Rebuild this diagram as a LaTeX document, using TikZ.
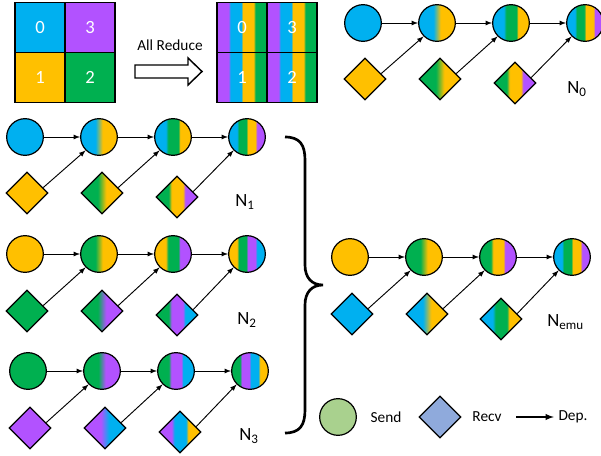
\documentclass[tikz,border=0pt]{standalone}
\usepackage{fontspec}
\setmainfont{Carlito}
\usetikzlibrary{calc,shapes.geometric}

\definecolor{cyn}{RGB}{0,176,240}
\definecolor{ylw}{RGB}{255,192,0}
\definecolor{grn}{RGB}{0,176,80}
\definecolor{prp}{RGB}{178,82,255}
\definecolor{lgrn}{RGB}{169,209,142}
\definecolor{lblu}{RGB}{143,170,220}

\newcommand{\twostripe}[3]{%
  \pgfdeclarehorizontalshading{#1}{100bp}{color(0bp)=(#2); color(45bp)=(#2);
    color(55bp)=(#3); color(100bp)=(#3)}}
\newcommand{\threestripe}[4]{%
  \pgfdeclarehorizontalshading{#1}{100bp}{color(0bp)=(#2); color(40bp)=(#2);
    color(43.5bp)=(#3); color(57.5bp)=(#3); color(59.5bp)=(#4); color(100bp)=(#4)}}
\newcommand{\fourstripe}[5]{%
  \pgfdeclarehorizontalshading{#1}{100bp}{color(0bp)=(#2); color(36.5bp)=(#2);
    color(38.5bp)=(#3); color(49bp)=(#3); color(51bp)=(#4); color(61.5bp)=(#4);
    color(63.5bp)=(#5); color(100bp)=(#5)}}

\twostripe{stay}{cyn}{ylw}
\twostripe{stgy}{grn}{ylw}
\twostripe{stgp}{grn}{prp}
\twostripe{stpa}{prp}{cyn}
\threestripe{stagy}{cyn}{grn}{ylw}
\threestripe{stgyp}{grn}{ylw}{prp}
\threestripe{stygp}{ylw}{grn}{prp}
\threestripe{stgpa}{grn}{prp}{cyn}
\threestripe{stpay}{prp}{cyn}{ylw}
\fourstripe{stagyp}{cyn}{grn}{ylw}{prp}
\fourstripe{stygpa}{ylw}{grn}{prp}{cyn}
\fourstripe{stgpay}{grn}{prp}{cyn}{ylw}
\fourstripe{stpayg}{prp}{cyn}{ylw}{grn}

\begin{document}
\begin{tikzpicture}[x=0.75pt, y=-0.75pt, font=\fontsize{11.5}{14}\selectfont]
  \tikzset{send/.style = {circle, draw, line width=0.9pt, minimum size=27.5pt, inner sep=0pt}}
  \tikzset{recv/.style = {diamond, draw, line width=0.9pt, minimum size=31.5pt, inner sep=0pt}}
  \tikzset{dep/.style = {->, >=latex, line width=0.7pt}}
  \tikzset{cell/.style = {draw, line width=1.1pt, minimum size=37.5pt, inner sep=0pt,
      text=white, font=\fontsize{14}{16}\selectfont}}
  \tikzset{tag/.style = {anchor=base west, inner sep=0pt, font=\fontsize{14}{16}\selectfont}}
  \tikzset{mix/.style = {shade, shading=#1}}

\useasboundingbox (0,0) rectangle (601,456);

% before / after
\node[cell, fill=cyn] (g0) at (40,27.5) {0};
\node[cell, fill=prp] (g3) at (90,27.5) {3};
\node[cell, fill=ylw] (g1) at (40,77.5) {1};
\node[cell, fill=grn] (g2) at (90,77.5) {2};

\node[cell, mix=stpayg] (h0) at (242,27.5) {0};
\node[cell, mix=stpayg] (h3) at (292,27.5) {3};
\node[cell, mix=stpayg] (h1) at (242,77.5) {1};
\node[cell, mix=stpayg] (h2) at (292,77.5) {2};

\node (allred) at (170,45) {All Reduce};
\draw[line width=1.1pt] (135,65) -- (188,65) -- (188,58) -- (202,71.5) -- (188,85)
    -- (188,78) -- (135,78) -- cycle;

% N0
\node[send, fill=cyn]   (s01) at (363,23) {};
\node[send, mix=stay]   (s02) at (437,23) {};
\node[send, mix=stagy]  (s03) at (511,23) {};
\node[send, mix=stagyp] (s04) at (585,23) {};
\node[recv, fill=ylw]   (r01) at (365,79) {};
\node[recv, mix=stgy]   (r02) at (440,79) {};
\node[recv, mix=stgyp]  (r03) at (515,83) {};
\node[tag] (n0) at (567,94) {N\textsubscript{0}};

% N1
\node[send, fill=cyn]   (s11) at (25,137) {};
\node[send, mix=stay]   (s12) at (99,137) {};
\node[send, mix=stagy]  (s13) at (173,137) {};
\node[send, mix=stagyp] (s14) at (247,137) {};
\node[recv, fill=ylw]   (r11) at (27,193) {};
\node[recv, mix=stgy]   (r12) at (102,193) {};
\node[recv, mix=stgyp]  (r13) at (177,197) {};
\node[tag] (n1) at (235,207) {N\textsubscript{1}};

% N2
\node[send, fill=ylw]   (s21) at (25,254) {};
\node[send, mix=stgy]   (s22) at (99,254) {};
\node[send, mix=stygp]  (s23) at (173,254) {};
\node[send, mix=stygpa] (s24) at (247,254) {};
\node[recv, fill=grn]   (r21) at (27,311) {};
\node[recv, mix=stgp]   (r22) at (102,311) {};
\node[recv, mix=stgpa]  (r23) at (177,315) {};
\node[tag] (n2) at (237,325) {N\textsubscript{2}};

% N3
\node[send, fill=grn]   (s31) at (28,371) {};
\node[send, mix=stgp]   (s32) at (102,371) {};
\node[send, mix=stgpa]  (s33) at (176,371) {};
\node[send, mix=stgpay] (s34) at (250,371) {};
\node[recv, fill=prp]   (r31) at (30,428) {};
\node[recv, mix=stpa]   (r32) at (105,428) {};
\node[recv, mix=stpay]  (r33) at (180,432) {};
\node[tag] (n3) at (239,441) {N\textsubscript{3}};

% N_emu
\node[send, fill=ylw]   (se1) at (350,257) {};
\node[send, mix=stgy]   (se2) at (424,257) {};
\node[send, mix=stgyp]  (se3) at (498,257) {};
\node[send, mix=stagyp] (se4) at (572,257) {};
\node[recv, fill=cyn]   (re1) at (352,314) {};
\node[recv, mix=stay]   (re2) at (427,314) {};
\node[recv, mix=stagy]  (re3) at (501,319) {};
\node[tag] (ne) at (547,327) {N\textsubscript{emu}};

\foreach \n in {0,1,2,3,e} {
  \foreach \i/\j in {1/2,2/3,3/4} {
    \draw[dep] (s\n\i) -- (s\n\j);
    \draw[dep] ($(r\n\i.east)!0.25!(r\n\i.north)$) -- (s\n\j.south west);
  }
}

% brace
\draw[line width=2pt] (285,137) .. controls (300,137) and (305,145) .. (305,160)
    -- (305,265) .. controls (305,278) and (312,285) .. (323,285)
    .. controls (312,285) and (305,292) .. (305,305)
    -- (305,410) .. controls (305,425) and (300,433) .. (285,433);

% legend
\node[send, fill=lgrn] (ksend) at (338,417) {};
\node (tsend) at (386,417) {Send};
\node[recv, fill=lblu] (krecv) at (440,417) {};
\node (trecv) at (487,417) {Recv};
\coordinate (kdep) at (516,417);
\node (tdep) at (573,417) {Dep.};
\draw[dep, line width=1.1pt] (kdep) -- (tdep.west);

\end{tikzpicture}
\end{document}
